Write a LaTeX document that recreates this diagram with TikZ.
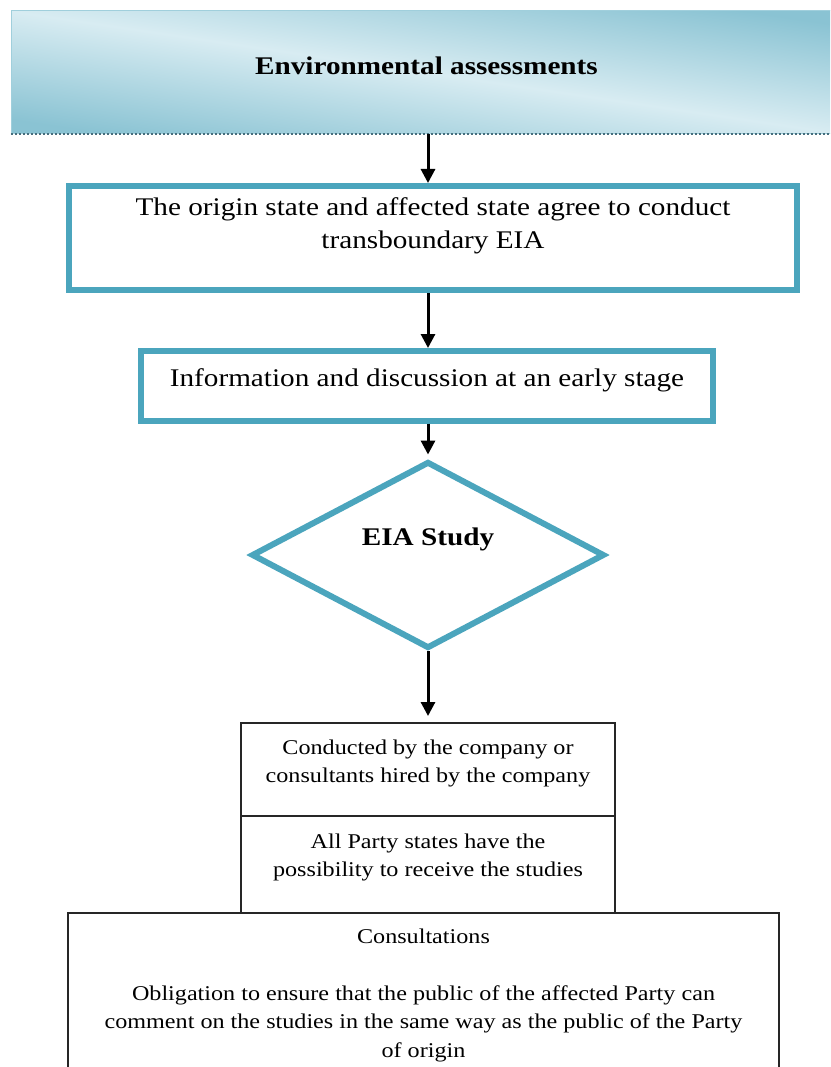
\documentclass[tikz,border=0pt]{standalone}
\usepackage{fontspec}
\setmainfont{Liberation Serif}[FakeStretch=1.15]
\usetikzlibrary{shapes.geometric,arrows.meta,positioning}
\definecolor{flowteal}{RGB}{75,165,189}
\definecolor{headlight}{RGB}{216,236,242}
\definecolor{headdark}{RGB}{138,195,211}
\definecolor{headedge}{RGB}{160,207,220}
\definecolor{dotline}{RGB}{70,110,125}
\newcommand{\bigtext}{\fontsize{25.4}{33}\selectfont}
\newcommand{\smalltext}{\fontsize{21}{28.5}\selectfont}

\begin{document}
\begin{tikzpicture}[
    x=1pt, y=-1pt,
    tealbox/.style={rectangle, draw=flowteal, line width=6pt, fill=white, align=center, font=\bigtext, anchor=north},
    thinbox/.style={rectangle, draw=black!85, line width=1.8pt, fill=white, align=center, font=\smalltext, anchor=north},
    arrow/.style={-{Triangle[length=14pt,width=14pt]}, line width=3pt, black}
]
\useasboundingbox (0,0) rectangle (830,1067);
\clip (0,0) rectangle (830,1067);

% Header
\node[rectangle, draw=headedge, line width=1pt, top color=headdark, bottom color=headdark, middle color=headlight, shading angle=-8.4,
      minimum width=831pt, minimum height=123pt, font=\bigtext\bfseries, text depth=14.5pt] (header) at (426.5,72.5) {Environmental assessments};
\draw[dotline, line width=2pt, dotted] (header.south west) -- (header.south east);

% Flow
\node[tealbox, minimum width=728pt, inner ysep=11.5pt, text depth=30.5pt] (agree) at (433,183)
    {The origin state and affected state agree to conduct\\ transboundary EIA};
\node[tealbox, minimum width=572pt, inner ysep=17.7pt, text depth=16.3pt] (info) at (427,348)
    {Information and discussion at an early stage};
\node[diamond, draw=flowteal, line width=6pt, fill=white, minimum width=353pt, minimum height=163pt,
      inner sep=0pt, font=\bigtext\bfseries, text depth=37pt] (study) at (428,555) {EIA Study};

% Details
\node[thinbox, minimum width=374pt, inner ysep=16.7pt, text depth=16.3pt] (conduct) at (428,722)
    {Conducted by the company or\\ consultants hired by the company};
\node[thinbox, minimum width=374pt, inner ysep=17.7pt, text depth=19.3pt] (receive) at (428,815)
    {All Party states have the\\ possibility to receive the studies};
\node[thinbox, minimum width=711pt, inner ysep=15.7pt, text depth=60pt] (consult) at (423.5,912)
    {Consultations\\[28.5pt] Obligation to ensure that the public of the affected Party can\\
     comment on the studies in the same way as the public of the Party\\ of origin};

\draw[arrow] (header.south -| study.north) -- (agree.north -| study.north);
\draw[arrow] (agree.south -| study.north) -- (info.north -| study.north);
\draw[arrow, shorten >=4pt] (info.south -| study.north) -- (study.north);
\draw[arrow, shorten >=6pt] (study.south) -- (conduct.north);
\end{tikzpicture}
\end{document}
